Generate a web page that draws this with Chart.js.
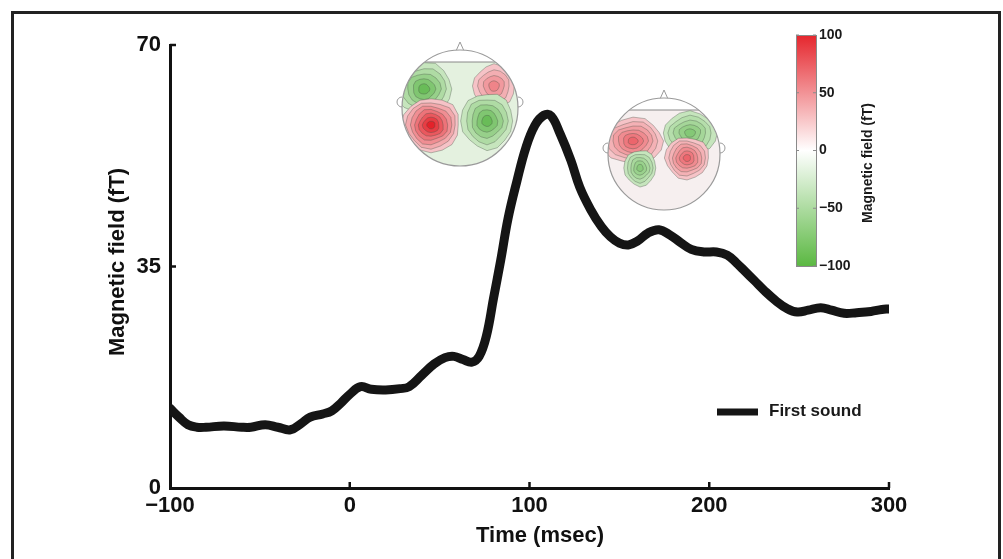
<!DOCTYPE html>
<html>
<head>
<meta charset="utf-8">
<script src="https://cdn.jsdelivr.net/npm/chart.js@4"></script>
<style>
  body { margin: 0; background: #fff; }
  canvas { display: block; }
</style>
</head>
<body>
<canvas id="chart" width="1003" height="559"></canvas>
<script>
// time axis (msec) and field strength (fT)
const times = [-100, -95, -90, -85, -80, -70, -60, -55, -47, -40, -33, -27, -22, -15, -10, -5,
  0, 6, 12, 20, 28, 33, 40, 47, 53, 58, 63, 68, 72, 76, 80, 84, 88, 93, 98, 103, 108, 112,
  117, 123, 128, 134, 140, 145, 150, 155, 160, 166, 172, 178, 184, 190, 197, 204, 210, 215,
  220, 225, 231, 237, 243, 249, 255, 262, 268, 275, 282, 290, 296, 300];
const field = [12.6, 11.2, 10.0, 9.6, 9.6, 9.8, 9.6, 9.6, 10.0, 9.6, 9.2, 10.2, 11.2, 11.7, 12.2, 13.4,
  14.8, 16.0, 15.6, 15.5, 15.7, 16.0, 17.8, 19.6, 20.6, 20.8, 20.3, 19.9, 20.8, 24.0, 30.0, 36.0, 42.5, 48.5, 53.8, 57.3, 58.9, 58.8,
  56.0, 51.8, 47.5, 44.0, 41.3, 39.7, 38.7, 38.4, 39.0, 40.3, 40.8, 40.0, 38.8, 37.7, 37.3, 37.3, 36.8, 35.6,
  34.2, 32.8, 31.1, 29.6, 28.4, 27.8, 28.1, 28.5, 28.1, 27.6, 27.7, 27.9, 28.2, 28.3];

const xTicks = [-100, 0, 100, 200, 300];
const yTicks = [0, 35, 70];
const seriesLabel = `First sound`;
const cbarTicks = [100, 50, 0, -50, -100];

const FONT = `"Liberation Sans", Arial, sans-serif`;
Chart.defaults.font.family = FONT;

const minus = (v) => String(v).replace(`-`, `\u2212`);

// topographic head insets (decoration, not data)
const heads = [
  {cx: 460, cy: 108, r: 58, top: 46, bg: `#e4f1df`, blobs: [
    {dx: -36, dy: -19, rx: 28, ry: 26, hue: `g`, n: 5, peak: 0.85},
    {dx: 34, dy: -22, rx: 21, ry: 21, hue: `r`, n: 4, peak: 0.45},
    {dx: -29, dy: 17, rx: 29, ry: 27, hue: `r`, n: 7, peak: 1.0},
    {dx: 27, dy: 13, rx: 26, ry: 28, hue: `g`, n: 5, peak: 0.85},
  ]},
  {cx: 664, cy: 154, r: 56, top: 44, bg: `#f6efef`, blobs: [
    {dx: -31, dy: -13, rx: 30, ry: 23, hue: `r`, n: 6, peak: 0.6},
    {dx: 26, dy: -21, rx: 27, ry: 21, hue: `g`, n: 5, peak: 0.6},
    {dx: 23, dy: 4, rx: 22, ry: 21, hue: `r`, n: 6, peak: 0.6},
    {dx: -24, dy: 14, rx: 16, ry: 18, hue: `g`, n: 5, peak: 0.55},
  ]},
];

const mix = (a, b, t) => a.map((c, i) => Math.round(c + (b[i] - c) * t));
const PAL = {
  r: {light: [248, 218, 221], strong: [228, 30, 38]},
  g: {light: [214, 236, 207], strong: [78, 176, 58]},
};

const drawBlob = (ctx, x, y, b, seed) => {
  const pal = PAL[b.hue];
  for (let i = b.n; i >= 1; i--) {
    const t = i / b.n;
    const col = mix(pal.light, pal.strong, (1 - t) * b.peak + 0.12);
    ctx.beginPath();
    for (let k = 0; k <= 16; k++) {
      const a = (k / 16) * Math.PI * 2;
      const w = 1 + 0.04 * Math.sin(3 * a + seed + i) + 0.03 * Math.cos(5 * a + seed);
      const px = x + Math.cos(a) * b.rx * t * w;
      const py = y + Math.sin(a) * b.ry * t * w;
      if (k === 0) ctx.moveTo(px, py); else ctx.lineTo(px, py);
    }
    ctx.closePath();
    ctx.fillStyle = `rgb(${col.join(`,`)})`;
    ctx.fill();
    ctx.strokeStyle = `rgba(70,80,70,0.5)`;
    ctx.lineWidth = 0.7;
    ctx.stroke();
  }
};

const drawHead = (ctx, h) => {
  const {cx, cy, r} = h;
  ctx.save();
  ctx.strokeStyle = `#9a9a9a`;
  ctx.lineWidth = 1;
  // nose
  ctx.beginPath();
  ctx.moveTo(cx - 4, cy - r + 1);
  ctx.lineTo(cx, cy - r - 8);
  ctx.lineTo(cx + 4, cy - r + 1);
  ctx.stroke();
  // ears
  ctx.beginPath();
  ctx.arc(cx - r, cy - 6, 5, Math.PI * 0.5, Math.PI * 1.5);
  ctx.stroke();
  ctx.beginPath();
  ctx.arc(cx + r, cy - 6, 5, -Math.PI * 0.5, Math.PI * 0.5);
  ctx.stroke();

  ctx.beginPath();
  ctx.arc(cx, cy, r, 0, Math.PI * 2);
  ctx.fillStyle = `#fff`;
  ctx.fill();
  ctx.save();
  ctx.clip();
  ctx.fillStyle = h.bg;
  ctx.fillRect(cx - r, cy - h.top, 2 * r, 2 * r);
  ctx.beginPath();
  ctx.moveTo(cx - r, cy - h.top);
  ctx.lineTo(cx + r, cy - h.top);
  ctx.strokeStyle = `#888`;
  ctx.stroke();
  h.blobs.forEach((b, i) => drawBlob(ctx, cx + b.dx, cy + b.dy, b, i * 1.7));
  ctx.restore();

  ctx.beginPath();
  ctx.arc(cx, cy, r, 0, Math.PI * 2);
  ctx.strokeStyle = `#9a9a9a`;
  ctx.lineWidth = 1.2;
  ctx.stroke();
  ctx.restore();
};

const drawColorbar = (ctx) => {
  const x = 796;
  const y = 35;
  const w = 20;
  const hgt = 231;
  const grad = ctx.createLinearGradient(0, y, 0, y + hgt);
  grad.addColorStop(0, `#e5262d`);
  grad.addColorStop(0.5, `#ffffff`);
  grad.addColorStop(1, `#5bb842`);
  ctx.fillStyle = grad;
  ctx.fillRect(x, y, w, hgt);
  ctx.strokeStyle = `#8a8a8a`;
  ctx.lineWidth = 1;
  ctx.strokeRect(x + 0.5, y + 0.5, w, hgt);

  ctx.fillStyle = `#1a1a1a`;
  ctx.font = `bold 14px ${FONT}`;
  ctx.textAlign = `left`;
  ctx.textBaseline = `middle`;
  cbarTicks.forEach((v) => {
    const ty = y + ((100 - v) / 200) * hgt;
    ctx.beginPath();
    ctx.moveTo(x, ty);
    ctx.lineTo(x + 3, ty);
    ctx.moveTo(x + w, ty);
    ctx.lineTo(x + w - 3, ty);
    ctx.stroke();
    ctx.fillText(minus(v), x + w + 3, ty);
  });

  ctx.save();
  ctx.translate(868, 163);
  ctx.rotate(-Math.PI / 2);
  ctx.textAlign = `center`;
  ctx.font = `bold 14px ${FONT}`;
  ctx.fillText(`Magnetic field (fT)`, 0, 0);
  ctx.restore();
};

const decorPlugin = {
  id: `decor`,
  beforeDatasetsDraw(chart) {
    const ctx = chart.ctx;
    heads.forEach((h) => drawHead(ctx, h));
    drawColorbar(ctx);
  },
  afterDraw(chart) {
    const ctx = chart.ctx;
    const {x, y} = chart.scales;
    ctx.save();
    // inward tick marks
    ctx.strokeStyle = `#111`;
    ctx.lineWidth = 2.5;
    xTicks.slice(1).forEach((v) => {
      const px = x.getPixelForValue(v);
      ctx.beginPath();
      ctx.moveTo(px, y.bottom);
      ctx.lineTo(px, y.bottom - 6);
      ctx.stroke();
    });
    yTicks.slice(1).forEach((v) => {
      const py = y.getPixelForValue(v);
      ctx.beginPath();
      ctx.moveTo(x.left, py);
      ctx.lineTo(x.left + 6, py);
      ctx.stroke();
    });

    // axis titles
    ctx.fillStyle = `#111`;
    ctx.font = `bold 22px ${FONT}`;
    ctx.textAlign = `center`;
    ctx.textBaseline = `middle`;
    ctx.fillText(`Time (msec)`, 540, 536);
    ctx.save();
    ctx.translate(118, 262);
    ctx.rotate(-Math.PI / 2);
    ctx.fillText(`Magnetic field (fT)`, 0, 0);
    ctx.restore();

    // legend
    const ds = chart.data.datasets[0];
    ctx.strokeStyle = ds.borderColor;
    ctx.lineWidth = 7;
    ctx.beginPath();
    ctx.moveTo(717, 412);
    ctx.lineTo(758, 412);
    ctx.stroke();
    ctx.font = `bold 17px ${FONT}`;
    ctx.textAlign = `left`;
    ctx.fillStyle = `#1a1a1a`;
    ctx.fillText(ds.label, 769, 411);

    // frame
    ctx.strokeStyle = `#222`;
    ctx.lineWidth = 3;
    ctx.strokeRect(12.5, 12.5, 987, 570);
    ctx.restore();
  },
};

const ctx = document.getElementById(`chart`);

new Chart(ctx, {
  type: `line`,
  plugins: [decorPlugin],
  data: {
    datasets: [{
      label: seriesLabel,
      data: times.map((t, i) => ({x: t, y: field[i]})),
      borderColor: `#151515`,
      borderWidth: 9,
      pointRadius: 0,
      fill: false,
      tension: 0.4,
      borderCapStyle: `round`,
      borderJoinStyle: `round`,
    }],
  },
  options: {
    responsive: false,
    animation: false,
    devicePixelRatio: 1,
    layout: {padding: {left: 0, top: 45, right: 114, bottom: 0}},
    plugins: {
      legend: {display: false},
      tooltip: {enabled: false},
    },
    scales: {
      x: {
        type: `linear`,
        min: -100,
        max: 300,
        afterBuildTicks: (scale) => {
          scale.ticks = xTicks.map((v) => ({value: v}));
        },
        afterFit: (scale) => {
          scale.height = 71;
        },
        grid: {display: false, drawTicks: false},
        border: {display: true, color: `#111`, width: 3},
        ticks: {
          color: `#111`,
          padding: 5,
          font: {size: 22, weight: `bold`},
          maxRotation: 0,
          callback: (v) => minus(v),
        },
      },
      y: {
        min: 0,
        max: 70,
        afterBuildTicks: (scale) => {
          scale.ticks = yTicks.map((v) => ({value: v}));
        },
        afterFit: (scale) => {
          scale.width = 170;
        },
        grid: {display: false, drawTicks: false},
        border: {display: true, color: `#111`, width: 3},
        ticks: {
          color: `#111`,
          padding: 9,
          font: {size: 22, weight: `bold`},
        },
      },
    },
  },
});
</script>
</body>
</html>
